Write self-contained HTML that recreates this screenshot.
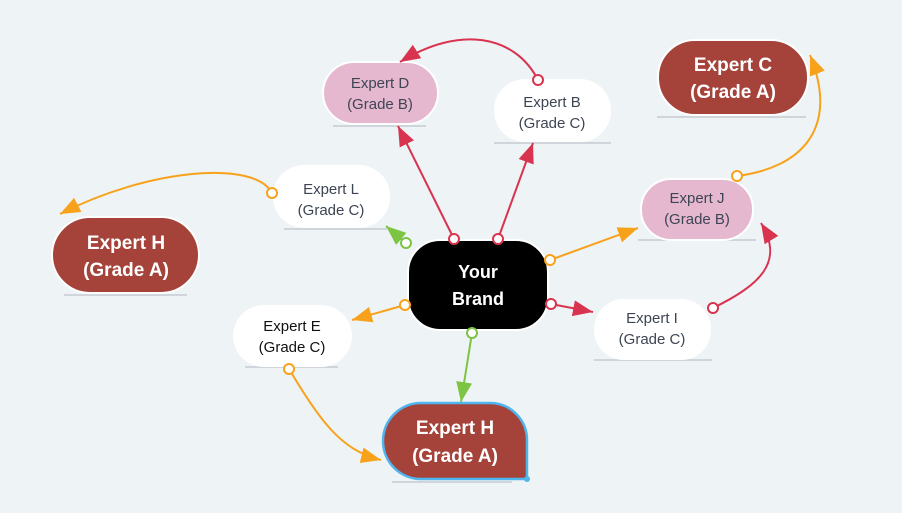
<!DOCTYPE html>
<html><head><meta charset="utf-8"><style>
html,body{margin:0;padding:0;background:#eef3f6;}
svg{display:block;}
text{font-family:"Liberation Sans",sans-serif;}
</style></head><body>
<svg width="902" height="513" viewBox="0 0 902 513" xmlns="http://www.w3.org/2000/svg">
<defs>
<marker id="ar" markerUnits="userSpaceOnUse" markerWidth="22" markerHeight="22" viewBox="0 0 22 22" refX="20" refY="11" orient="auto"><path d="M0,3 L20,11 L0,19 Z" fill="#d9344f"/></marker>
<marker id="ao" markerUnits="userSpaceOnUse" markerWidth="22" markerHeight="22" viewBox="0 0 22 22" refX="20" refY="11" orient="auto"><path d="M0,3 L20,11 L0,19 Z" fill="#f8a21c"/></marker>
<marker id="ag" markerUnits="userSpaceOnUse" markerWidth="22" markerHeight="22" viewBox="0 0 22 22" refX="20" refY="11" orient="auto"><path d="M0,3 L20,11 L0,19 Z" fill="#7dc443"/></marker>
</defs>
<rect width="902" height="513" fill="#eef3f6"/>

<g stroke="#cfd5da" stroke-width="2">
<line x1="333" y1="126" x2="426" y2="126"/>
<line x1="494" y1="143" x2="611" y2="143"/>
<line x1="657" y1="117" x2="806" y2="117"/>
<line x1="638" y1="240" x2="756" y2="240"/>
<line x1="594" y1="360" x2="712" y2="360"/>
<line x1="284" y1="229" x2="387" y2="229"/>
<line x1="64" y1="295" x2="187" y2="295"/>
<line x1="245" y1="367" x2="338" y2="367"/>
<line x1="392" y1="482" x2="512" y2="482"/>
</g>

<rect x="323" y="62" width="115" height="62" rx="31" fill="#e6b8d0" stroke="#fff" stroke-width="2"/>
<rect x="494" y="79" width="117" height="63" rx="31" fill="#fff"/>
<rect x="658" y="40" width="150" height="75" rx="37" fill="#a5433a" stroke="#fff" stroke-width="2"/>
<rect x="641" y="179" width="112" height="61" rx="30" fill="#e6b8d0" stroke="#fff" stroke-width="2"/>
<rect x="273" y="165" width="117" height="63" rx="31" fill="#fff"/>
<rect x="52" y="217" width="147" height="76" rx="38" fill="#a5433a" stroke="#fff" stroke-width="2"/>
<rect x="233" y="305" width="119" height="62" rx="31" fill="#fff"/>
<rect x="594" y="299" width="117" height="61" rx="30" fill="#fff"/>
<rect x="408" y="240" width="140" height="90" rx="32" fill="#000" stroke="#fff" stroke-width="2"/>
<path d="M421,403 H490 A37,37 0 0 1 527,440 V479 H421 A38,38 0 0 1 421,403 Z" fill="#a5433a" stroke="#4fb5ef" stroke-width="2.5"/>
<circle cx="527" cy="479" r="3" fill="#4fb5ef"/>

<g fill="none" stroke-width="2">
<line x1="454" y1="239" x2="398" y2="126" stroke="#d9344f" marker-end="url(#ar)"/>
<line x1="498" y1="239" x2="533" y2="143" stroke="#d9344f" marker-end="url(#ar)"/>
<path d="M538,80 C515,35 460,25 400,62" stroke="#d9344f" marker-end="url(#ar)"/>
<line x1="551" y1="304" x2="593" y2="312" stroke="#d9344f" marker-end="url(#ar)"/>
<path d="M713,308 C760,285 785,262 761,223" stroke="#d9344f" marker-end="url(#ar)"/>
<line x1="550" y1="260" x2="638" y2="228" stroke="#f8a21c" marker-end="url(#ao)"/>
<path d="M737,176 C800,168 840,130 810,55" stroke="#f8a21c" marker-end="url(#ao)"/>
<path d="M272,193 C255,160 150,168 60,214" stroke="#f8a21c" marker-end="url(#ao)"/>
<line x1="405" y1="305" x2="352" y2="320" stroke="#f8a21c" marker-end="url(#ao)"/>
<path d="M289,369 C320,420 340,450 381,460" stroke="#f8a21c" marker-end="url(#ao)"/>
<line x1="406" y1="243" x2="386" y2="226" stroke="#7dc443" marker-end="url(#ag)"/>
<line x1="472" y1="333" x2="461" y2="402" stroke="#7dc443" marker-end="url(#ag)"/>
</g>
<g fill="#fff" stroke-width="2">
<circle cx="454" cy="239" r="5" stroke="#d9344f"/>
<circle cx="498" cy="239" r="5" stroke="#d9344f"/>
<circle cx="538" cy="80" r="5" stroke="#d9344f"/>
<circle cx="551" cy="304" r="5" stroke="#d9344f"/>
<circle cx="713" cy="308" r="5" stroke="#d9344f"/>
<circle cx="550" cy="260" r="5" stroke="#f8a21c"/>
<circle cx="737" cy="176" r="5" stroke="#f8a21c"/>
<circle cx="272" cy="193" r="5" stroke="#f8a21c"/>
<circle cx="405" cy="305" r="5" stroke="#f8a21c"/>
<circle cx="289" cy="369" r="5" stroke="#f8a21c"/>
<circle cx="406" cy="243" r="5" stroke="#7dc443"/>
<circle cx="472" cy="333" r="5" stroke="#7dc443"/>
</g>

<g font-size="15" fill="#3d4553" text-anchor="middle">
<text x="380" y="88">Expert D</text><text x="380" y="109">(Grade B)</text>
<text x="552" y="107">Expert B</text><text x="552" y="128">(Grade C)</text>
<text x="697" y="203">Expert J</text><text x="697" y="224">(Grade B)</text>
<text x="331" y="194">Expert L</text><text x="331" y="215">(Grade C)</text>
<text x="652" y="323">Expert I</text><text x="652" y="344">(Grade C)</text>
<text x="292" y="331" fill="#111">Expert E</text><text x="292" y="352" fill="#111">(Grade C)</text>
</g>
<g font-size="19" font-weight="bold" fill="#fff" text-anchor="middle">
<text x="733" y="71">Expert C</text><text x="733" y="98">(Grade A)</text>
<text x="126" y="249">Expert H</text><text x="126" y="276">(Grade A)</text>
<text x="455" y="434">Expert H</text><text x="455" y="462">(Grade A)</text>
<text x="478" y="278" font-size="18">Your</text><text x="478" y="305" font-size="18">Brand</text>
</g>
</svg>
</body></html>
